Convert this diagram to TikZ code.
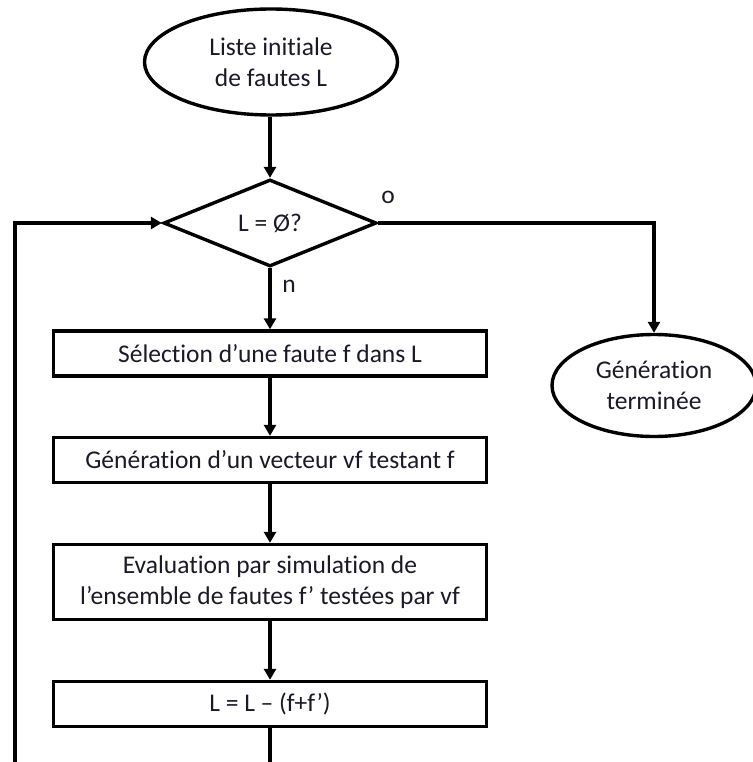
\documentclass[tikz,border=0pt]{standalone}
\usepackage{fontspec}
\setmainfont{Carlito}[Ligatures={NoCommon}]
\usetikzlibrary{shapes.geometric,arrows.meta}
\definecolor{txt}{RGB}{25,25,40}
\begin{document}
\begin{tikzpicture}[x=1pt,y=-1pt,
  line width=3.4pt,
  every node/.style={font=\fontsize{25.5}{31.5}\selectfont, text=txt},
  proc/.style={draw, rectangle, minimum width=433pt, inner sep=0pt, align=center},
  term/.style={draw, ellipse, inner sep=0pt, align=center},
  dec/.style={draw, diamond, inner sep=0pt, minimum width=213pt, minimum height=87pt, aspect=2.4},
  conn/.style={line width=3.4pt, -{Triangle[length=11pt,width=12pt]}},
  plainline/.style={line width=3.4pt}]
\useasboundingbox (0,0) rectangle (752,762);
\node[term, minimum width=253pt, minimum height=106pt] (start) at (271,62) {Liste initiale\\de fautes L};
\node[dec] (test) at (270,223) {L = Ø?};
\node[proc, minimum height=45pt] (s1) at (270,353.5) {Sélection d’une faute f dans L};
\node[proc, minimum height=45pt] (s2) at (270,460) {Génération d’un vecteur vf testant f};
\node[proc, minimum height=75pt] (s3) at (270,582) {Evaluation par simulation de\\l’ensemble de fautes f’ testées par vf};
\node[proc, minimum height=45pt] (s4) at (270,704) {L = L – (f+f’)};
\node[term, minimum width=204pt, minimum height=102pt] (end) at (654,385.5) {Génération\\terminée};
\node (lo) at (388,197) {o};
\node (ln) at (289,286) {n};
\coordinate (bot) at (270,765);
\coordinate (botl) at (15,765);
\coordinate (loopc) at (15,223);
\draw[conn] (start.south -| test.north) -- (test.north);
\draw[conn] (test.east) -| (end.north);
\draw[conn] (test.south) -- (s1.north);
\draw[conn] (s1.south) -- (s2.north);
\draw[conn] (s2.south) -- (s3.north);
\draw[conn] (s3.south) -- (s4.north);
\draw[plainline] (s4.south) -- (bot);
\draw[conn] (botl) -- (loopc) -- (test.west);
\end{tikzpicture}
\end{document}
